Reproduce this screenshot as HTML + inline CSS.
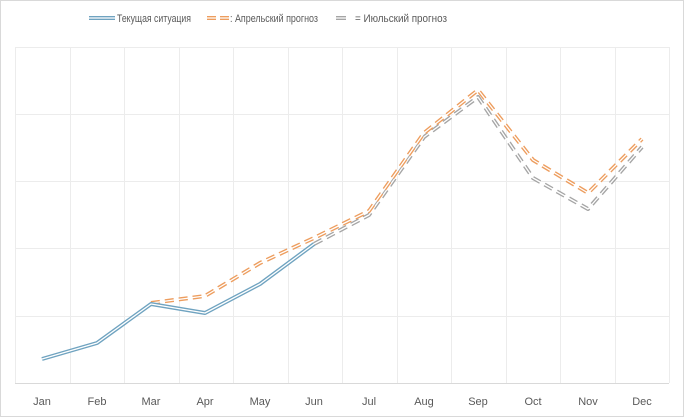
<!DOCTYPE html>
<html><head><meta charset="utf-8"><style>
html,body{margin:0;padding:0;background:#fff}
svg{display:block}
text{font-family:"Liberation Sans",sans-serif;font-size:11px;fill:#595959}
</style></head><body>
<svg width="684" height="417" viewBox="0 0 684 417">
<rect x="0.5" y="0.5" width="683" height="416" fill="#fff" stroke="#d9d9d9"/>
<g stroke="#ececec" stroke-width="1">
<line x1="15" y1="47.5" x2="669" y2="47.5"/>
<line x1="15" y1="114.5" x2="669" y2="114.5"/>
<line x1="15" y1="181.5" x2="669" y2="181.5"/>
<line x1="15" y1="248.5" x2="669" y2="248.5"/>
<line x1="15" y1="316.5" x2="669" y2="316.5"/>
<line x1="15.5" y1="47" x2="15.5" y2="383"/>
<line x1="70.5" y1="47" x2="70.5" y2="383"/>
<line x1="124.5" y1="47" x2="124.5" y2="383"/>
<line x1="179.5" y1="47" x2="179.5" y2="383"/>
<line x1="233.5" y1="47" x2="233.5" y2="383"/>
<line x1="288.5" y1="47" x2="288.5" y2="383"/>
<line x1="342.5" y1="47" x2="342.5" y2="383"/>
<line x1="397.5" y1="47" x2="397.5" y2="383"/>
<line x1="451.5" y1="47" x2="451.5" y2="383"/>
<line x1="506.5" y1="47" x2="506.5" y2="383"/>
<line x1="560.5" y1="47" x2="560.5" y2="383"/>
<line x1="615.5" y1="47" x2="615.5" y2="383"/>
<line x1="669.5" y1="47" x2="669.5" y2="383"/>
</g>
<line x1="15" y1="383.5" x2="669" y2="383.5" stroke="#d9d9d9"/>
<g fill="none" stroke-linejoin="round">
<polyline points="314,244 369,215 424,137 478,97 533,178 588,209 642,147" stroke="#a5a5a5" stroke-width="4" stroke-dasharray="9,5"/>
<polyline points="314,244 369,215 424,137 478,97 533,178 588,209 642,147" stroke="#fff" stroke-width="1.3"/>
<polyline points="151,303 205,296 260,263 314,238 369,211 424,133 478,90 533,160 588,193 642,139" stroke="#ed9d5e" stroke-width="4" stroke-dasharray="9,5"/>
<polyline points="151,303 205,296 260,263 314,238 369,211 424,133 478,90 533,160 588,193 642,139" stroke="#fff" stroke-width="1.3"/>
<polyline points="42,359 97,343 151,304 205,313 260,284 314,244" stroke="#6fa3c0" stroke-width="4"/>
<polyline points="42,359 97,343 151,304 205,313 260,284 314,244" stroke="#fff" stroke-width="1.3"/>
</g>
<g text-anchor="middle">
<text x="42" y="405">Jan</text><text x="97" y="405">Feb</text><text x="151" y="405">Mar</text>
<text x="205" y="405">Apr</text><text x="260" y="405">May</text><text x="314" y="405">Jun</text>
<text x="369" y="405">Jul</text><text x="424" y="405">Aug</text><text x="478" y="405">Sep</text>
<text x="533" y="405">Oct</text><text x="588" y="405">Nov</text><text x="642" y="405">Dec</text>
</g>
<g fill="none">
<line x1="89" y1="18" x2="115" y2="18" stroke="#6fa3c0" stroke-width="4"/>
<line x1="89" y1="18" x2="115" y2="18" stroke="#fff" stroke-width="1.2"/>
<line x1="207" y1="18" x2="229" y2="18" stroke="#ed9d5e" stroke-width="4" stroke-dasharray="9,4"/>
<line x1="207" y1="18" x2="229" y2="18" stroke="#fff" stroke-width="1.2"/>
<line x1="336" y1="18" x2="346" y2="18" stroke="#a5a5a5" stroke-width="4"/>
<line x1="336" y1="18" x2="346" y2="18" stroke="#fff" stroke-width="1.2"/>
</g>
<text x="117" y="22" textLength="74" lengthAdjust="spacingAndGlyphs">Текущая ситуация</text>
<text x="230" y="22" textLength="88" lengthAdjust="spacingAndGlyphs">: Апрельский прогноз</text>
<text x="355" y="22" textLength="92" lengthAdjust="spacingAndGlyphs">= Июльский прогноз</text>
</svg>
</body></html>
